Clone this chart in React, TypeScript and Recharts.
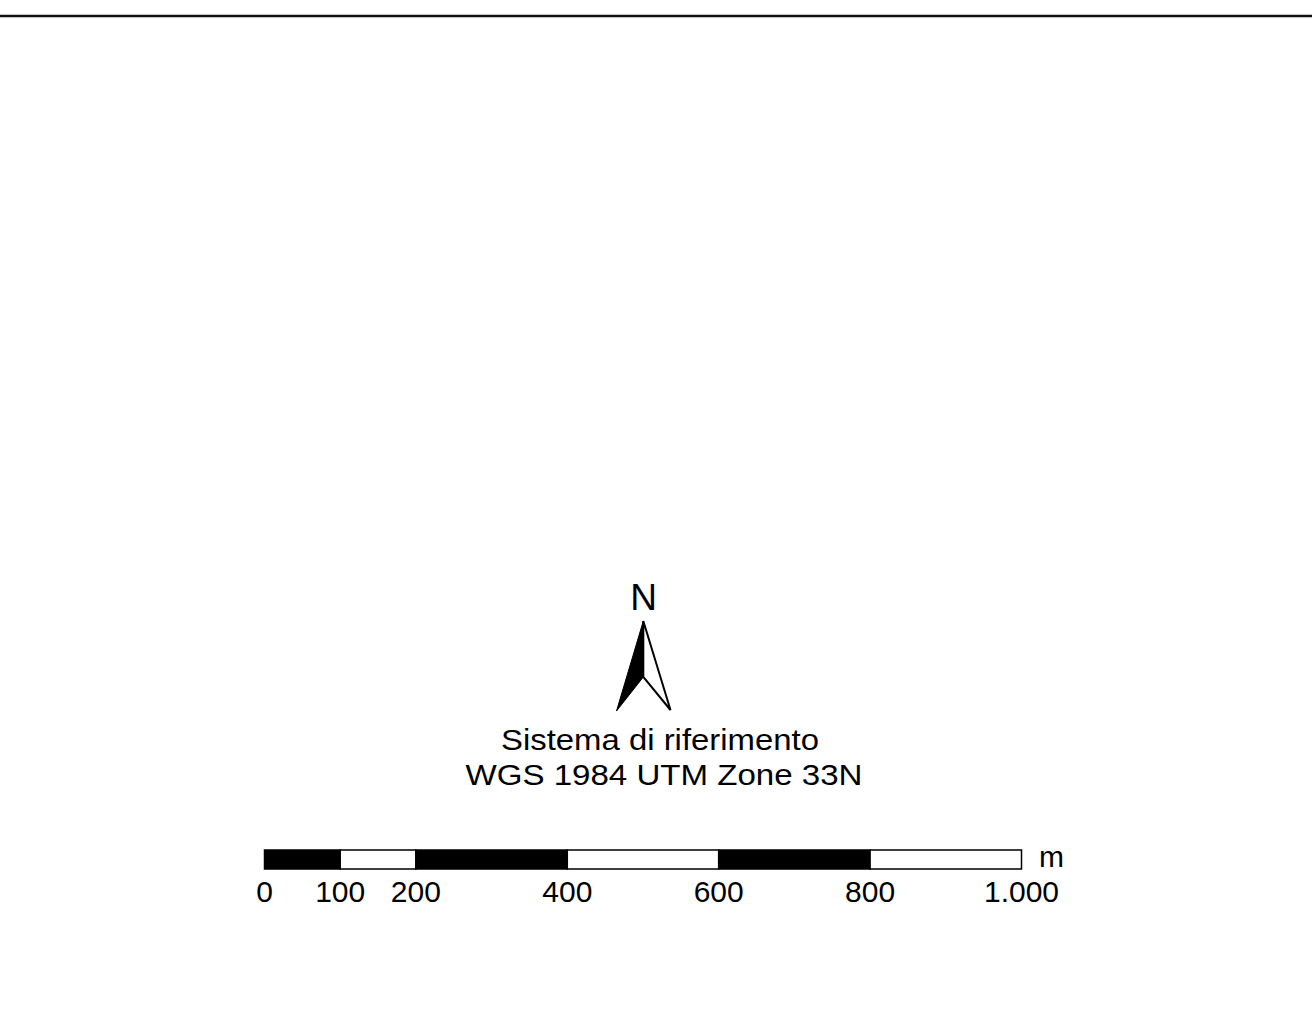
import React from "react";
import { BarChart, Bar, XAxis, YAxis } from "recharts";

const segmentKeys = ["s1", "s2", "s3", "s4", "s5", "s6"];
const segmentLengths = [100, 100, 200, 200, 200, 200];
const segmentFills = ["#000000", "#ffffff", "#000000", "#ffffff", "#000000", "#ffffff"];
const tickValues = [0, 100, 200, 400, 600, 800, 1000];
const unitLabel = "m";
const titleLines = ["Sistema di riferimento", "WGS 1984 UTM Zone 33N"];
const northLabel = "N";

const row: Record<string, number | string> = { cat: "scala" };
segmentKeys.forEach((k, i) => {
  row[k] = segmentLengths[i];
});
const data = [row];

const fmt = (v: number) => String(v).replace(/\B(?=(\d{3})+(?!\d))/g, ".");

const FONT = "'Liberation Sans', Arial, Helvetica, sans-serif";

export default function App() {
  return (
    <div style={{ position: "absolute", left: 0, top: 0, width: 1312, height: 1036, background: "#fff" }}>
      <BarChart
        width={1312}
        height={1036}
        layout="vertical"
        data={data}
        margin={{ top: 850, right: 290.5, bottom: 127, left: 264.5 }}
        barCategoryGap={0}
      >
        <YAxis type="category" dataKey="cat" hide />
        <XAxis
          type="number"
          domain={[0, 1000]}
          ticks={tickValues}
          tickFormatter={fmt}
          axisLine={false}
          tickLine={false}
          tickSize={0}
          tickMargin={12}
          height={40}
          interval={0}
          tick={{ fill: "#000", fontSize: 30, fontFamily: FONT }}
        />
        {segmentKeys.map((k, i) => (
          <Bar
            key={k}
            dataKey={k}
            stackId="scale"
            fill={segmentFills[i]}
            stroke="#000"
            strokeWidth={1.5}
            isAnimationActive={false}
          />
        ))}
      </BarChart>
      <svg
        width={1312}
        height={1036}
        style={{ position: "absolute", left: 0, top: 0, pointerEvents: "none" }}
      >
        <line x1={0} y1={16} x2={1312} y2={16} stroke="#111" strokeWidth={2.5} />
        <text x={1039} y={867} fontSize={30} fontFamily={FONT} fill="#000">
          {unitLabel}
        </text>
        <text x={643.5} y={610} fontSize={37} fontFamily={FONT} fill="#000" textAnchor="middle">
          {northLabel}
        </text>
        <polygon points="643.3,621 616.5,711 643.3,677" fill="#000" stroke="#000" strokeWidth={1} />
        <polygon points="643.3,621 643.3,677 670.5,710" fill="#fff" stroke="#000" strokeWidth={2} strokeLinejoin="miter" />
        <text
          x={660}
          y={750}
          fontSize={30}
          fontFamily={FONT}
          fill="#000"
          textAnchor="middle"
          textLength={318}
          lengthAdjust="spacingAndGlyphs"
        >
          {titleLines[0]}
        </text>
        <text
          x={664}
          y={785}
          fontSize={30}
          fontFamily={FONT}
          fill="#000"
          textAnchor="middle"
          textLength={397}
          lengthAdjust="spacingAndGlyphs"
        >
          {titleLines[1]}
        </text>
      </svg>
    </div>
  );
}
